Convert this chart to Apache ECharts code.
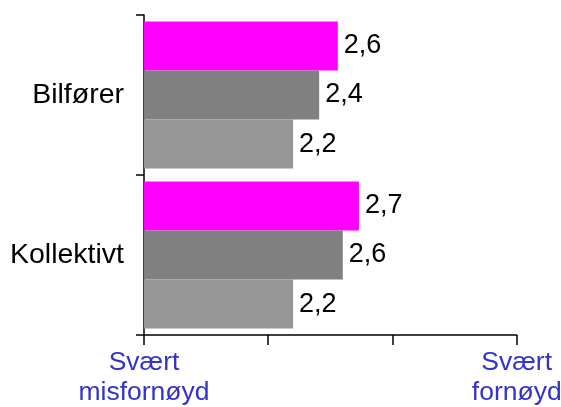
<!DOCTYPE html>
<html>
<head>
<meta charset="utf-8">
<script src="https://cdn.jsdelivr.net/npm/echarts@6/dist/echarts.min.js"></script>
<style>html,body{margin:0;padding:0;background:#fff;}#c{width:561px;height:407px;}</style>
</head>
<body>
<div id="c"></div>
<script>
var categories = ['Bilfører', 'Kollektivt'];
var seriesA = [2.56, 2.73];
var seriesB = [2.41, 2.60];
var seriesC = [2.20, 2.20];
var xTickLabels = {1: 'Svært\nmisfornøyd', 2: '', 3: '', 4: 'Svært\nfornøyd'};

var chart = echarts.init(document.getElementById('c'));
function lbl(p) { return p.value.toFixed(1).replace('.', ','); }
function mk(name, data, color) {
  return {
    name: name, type: 'bar', data: data, barGap: '0%', barCategoryGap: '8%',
    itemStyle: { color: color },
    label: { show: true, position: 'right', distance: 6, formatter: lbl,
      color: '#000', fontSize: 27, fontFamily: 'Liberation Sans' },
    animation: false
  };
}
chart.setOption({
  animation: false,
  grid: { left: 144, right: 44.3, top: 15, bottom: 72, containLabel: false, outerBoundsMode: 'none' },
  xAxis: {
    type: 'value', min: 1, max: 4, interval: 1,
    axisLine: { show: true, lineStyle: { color: '#000', width: 1.5 } },
    axisTick: { show: true, length: 10, lineStyle: { color: '#000', width: 1.5 } },
    splitLine: { show: false },
    axisLabel: {
      margin: 13, color: '#3333CC', fontSize: 26.5, lineHeight: 30,
      fontFamily: 'Liberation Sans', hideOverlap: false,
      formatter: function (v) { return xTickLabels[v] !== undefined ? xTickLabels[v] : ''; }
    }
  },
  yAxis: {
    type: 'category', data: categories, inverse: true,
    axisLine: { show: true, lineStyle: { color: '#000', width: 1.5 } },
    axisTick: { show: true, length: 8, lineStyle: { color: '#000', width: 1.5 } },
    axisLabel: { margin: 20, color: '#000', fontSize: 28.5, fontFamily: 'Liberation Sans' }
  },
  series: [
    mk('Serie 1', seriesA, '#FF00FF'),
    mk('Serie 2', seriesB, '#808080'),
    mk('Serie 3', seriesC, '#969696')
  ]
});
</script>
</body>
</html>
